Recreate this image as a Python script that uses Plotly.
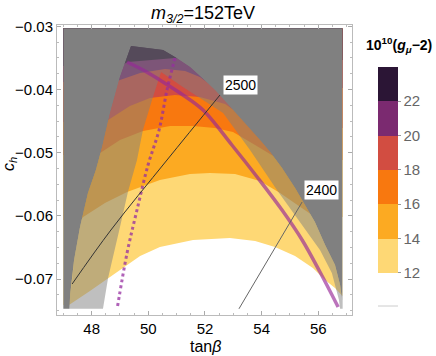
import plotly.graph_objects as go

# ---------------- data (tanβ , c_h) ----------------
X_MIN, X_MAX = 47.0, 56.85
Y_MIN, Y_MAX = -0.0747, -0.0303

# envelope of the computed region (outside: excluded, dark gray)
env_left_x = [47.22, 47.24, 47.31, 47.38, 47.59, 47.87, 48.15, 48.37, 48.65, 49.00, 49.39]
env_left_y = [-0.0747, -0.07252, -0.07014, -0.06698, -0.06176, -0.05638, -0.05274, -0.0491, -0.04372, -0.03802, -0.03312]
env_top_x = [50.06, 50.52, 50.94]
env_top_y = [-0.03343, -0.03375, -0.03486]
env_right_x = [51.47, 51.82, 52.35, 52.99, 53.41, 53.94, 54.30, 54.72, 55.18, 55.53, 55.88, 56.24, 56.59, 56.77, 56.84, 56.84]
env_right_y = [-0.03644, -0.03786, -0.04008, -0.04324, -0.0453, -0.04799, -0.04989, -0.05242, -0.05559, -0.05828, -0.06097, -0.0646, -0.06777, -0.07093, -0.0733, -0.0747]

# allowed (un-shaded) region
bright_left_x = [50.45, 50.13, 49.81, 49.60, 49.28, 49.00, 48.58, 48.40]
bright_left_y = [-0.03723, -0.04166, -0.04641, -0.05116, -0.05622, -0.06176, -0.06983, -0.0747]
bright_right_x = [50.45, 51.22, 52.64, 53.59, 54.54, 55.35, 56.06, 56.48, 56.73, 56.77]
bright_right_y = [-0.03723, -0.0396, -0.04372, -0.04957, -0.0559, -0.06097, -0.0654, -0.06903, -0.0733, -0.0747]

# g-2 contour levels
LEVELS = [12, 14, 16, 18, 20, 22, 24]
BAND_COLORS = ["#fed875", "#fcaa22", "#f8780f", "#d24d41", "#7b2a70", "#2b1535"]

c12_x = [47.20, 47.94, 48.58, 49.25, 49.71, 50.41, 51.58, 52.88, 53.77, 54.47, 55.18, 55.81, 56.24, 56.59, 56.84]
c12_y = [-0.0741, -0.07188, -0.06983, -0.06777, -0.06634, -0.06492, -0.06381, -0.0635, -0.06397, -0.06492, -0.06634, -0.06824, -0.07014, -0.07141, -0.07267]
c14_x = [47.59, 47.70, 48.47, 49.25, 50.41, 51.47, 52.18, 53.06, 53.94, 54.65, 55.28, 55.88]
c14_y = [-0.06065, -0.06017, -0.05796, -0.05622, -0.05432, -0.05337, -0.05321, -0.05337, -0.05448, -0.05638, -0.05828, -0.06017]
c16_x = [48.19, 49.00, 49.81, 50.77, 51.58, 52.35, 52.99, 53.77, 54.65]
c16_y = [-0.05036, -0.04799, -0.04657, -0.04578, -0.04578, -0.04609, -0.04672, -0.04878, -0.05116]
c18_x = [48.47, 49.35, 50.06, 50.94, 51.82, 52.71, 53.41, 53.77]
c18_y = [-0.04514, -0.04261, -0.04134, -0.04087, -0.04119, -0.04229, -0.04451, -0.04609]
c20_x = [48.82, 49.00, 49.71, 50.59, 51.30, 51.82, 52.35]
c20_y = [-0.03881, -0.0385, -0.03739, -0.03676, -0.03707, -0.03802, -0.03976]
c22_x = [49.00, 49.28, 50.06, 50.94, 51.47]
c22_y = [-0.03628, -0.03565, -0.03533, -0.03502, -0.03533]
CONTOURS_X = [c12_x, c14_x, c16_x, c18_x, c20_x, c22_x]
CONTOURS_Y = [c12_y, c14_y, c16_y, c18_y, c20_y, c22_y]

# purple curves
dot_x = [50.94, 50.66, 50.38, 49.99, 49.60, 49.25, 48.90]
dot_y = [-0.03502, -0.04008, -0.04641, -0.05195, -0.05907, -0.06587, -0.0747]
solid_x = [49.25, 49.88, 50.41, 51.12, 51.93, 52.95, 53.87, 54.72, 55.43, 56.06, 56.70]
solid_y = [-0.03565, -0.03707, -0.0385, -0.04055, -0.04324, -0.04878, -0.0540, -0.05907, -0.06381, -0.06888, -0.07441]

# mass contours
m2500_x = [47.31, 48.68, 50.66, 52.53]
m2500_y = [-0.07078, -0.06223, -0.05116, -0.04087]
m2400_x = [53.20, 55.43]
m2400_y = [-0.0747, -0.0578]
MASS_LABELS = ["2500", "2400"]

X_TICKS = [48, 50, 52, 54, 56]
Y_TICKS = [-0.07, -0.06, -0.05, -0.04, -0.03]
Y_TICKTEXT = ["\u22120.07", "\u22120.06", "\u22120.05", "\u22120.04", "\u22120.03"]
CB_TICKS = [12, 14, 16, 18, 20, 22]

# ---------------- figure ----------------
fig = go.Figure()

def poly(xs, ys, color):
    fig.add_trace(go.Scatter(x=xs, y=ys, mode="lines", fill="toself", fillcolor=color,
                             line=dict(width=0), hoverinfo="skip", showlegend=False))

# colour bands: region above each contour level
for cx, cy, col in zip(CONTOURS_X, CONTOURS_Y, BAND_COLORS):
    xs = [X_MIN] + cx + [X_MAX, X_MAX, X_MIN]
    ys = [cy[0]] + cy + [cy[-1], Y_MAX, Y_MAX]
    poly(xs, ys, col)

# translucent shading of envelope minus allowed region
ov_x = env_left_x + env_top_x + env_right_x + bright_right_x[::-1] + bright_left_x[1:]
ov_y = env_left_y + env_top_y + env_right_y + bright_right_y[::-1] + bright_left_y[1:]
poly(ov_x, ov_y, "rgba(128,128,128,0.5)")

# opaque gray outside envelope
out_x = [X_MIN] + env_left_x + env_top_x + env_right_x + [X_MAX, X_MAX, X_MIN]
out_y = [Y_MIN] + env_left_y + env_top_y + env_right_y + [Y_MIN, Y_MAX, Y_MAX]
poly(out_x, out_y, "#808080")

# purple curves
fig.add_trace(go.Scatter(x=dot_x, y=dot_y, mode="lines", line=dict(color="rgba(150,45,160,0.75)", width=3, dash="dot", shape="spline"),
                         hoverinfo="skip", showlegend=False))
fig.add_trace(go.Scatter(x=solid_x, y=solid_y, mode="lines", line=dict(color="rgba(150,40,150,0.65)", width=3.5, shape="spline"),
                         hoverinfo="skip", showlegend=False))
# mass contours
fig.add_trace(go.Scatter(x=m2500_x, y=m2500_y, mode="lines", line=dict(color="#333333", width=1, shape="spline"),
                         hoverinfo="skip", showlegend=False))
fig.add_trace(go.Scatter(x=m2400_x, y=m2400_y, mode="lines", line=dict(color="#666666", width=1),
                         hoverinfo="skip", showlegend=False))

# colorbar
cs = []
n = len(BAND_COLORS)
for i, c in enumerate(BAND_COLORS):
    cs.append([i / n, c])
    cs.append([(i + 1) / n, c])
fig.add_trace(go.Scatter(x=[None], y=[None], mode="markers", showlegend=False, hoverinfo="skip",
                         marker=dict(color=[LEVELS[0]], cmin=LEVELS[0], cmax=LEVELS[-1], colorscale=cs, showscale=True,
                                     colorbar=dict(x=1.0881, xanchor="left", y=0.5003, yanchor="middle",
                                                   len=0.709, lenmode="fraction", thickness=20, xpad=0, ypad=0,
                                                   outlinewidth=0, tickvals=CB_TICKS, ticktext=[str(t) for t in CB_TICKS],
                                                   ticks="outside", ticklen=3, tickcolor="#999999",
                                                   tickfont=dict(size=15, color="#666666")))))

font_fam = "Liberation Sans, Arial, sans-serif"
fig.update_layout(
    width=436, height=356,
    margin=dict(l=57, r=84, t=25, b=41),
    paper_bgcolor="white", plot_bgcolor="white",
    font=dict(family=font_fam, color="black"),
    title=dict(text="<i>m</i><sub><i>3/2</i></sub>=152TeV", xref="container", yref="container",
               x=0.4656, xanchor="center", y=0.9635, yanchor="middle", font=dict(size=18)),
    xaxis=dict(range=[46.777, 57.19], tickvals=X_TICKS, ticktext=[str(t) for t in X_TICKS],
               ticks="inside", ticklen=4, tickcolor="#aaaaaa", showline=True, linecolor="#bbbbbb",
               mirror="allticks", showgrid=False, zeroline=False, tickfont=dict(size=15),
               minor=dict(ticks="inside", ticklen=2, dtick=0.5, tick0=47, tickcolor="#bbbbbb", showgrid=False)),
    yaxis=dict(range=[-0.07568, -0.029794], tickvals=Y_TICKS, ticktext=Y_TICKTEXT,
               ticks="inside", ticklen=4, tickcolor="#aaaaaa", showline=True, linecolor="#bbbbbb",
               mirror="allticks", showgrid=False, zeroline=False, tickfont=dict(size=15),
               minor=dict(ticks="inside", ticklen=2, dtick=0.0025, tick0=-0.075, tickcolor="#bbbbbb", showgrid=False)),
)

annotations = [
    dict(x=53.24, y=-0.03929, xref="x", yref="y", text=MASS_LABELS[0], showarrow=False,
         bgcolor="white", font=dict(size=14, color="black"), borderpad=1),
    dict(x=56.10, y=-0.0559, xref="x", yref="y", text=MASS_LABELS[1], showarrow=False,
         bgcolor="white", font=dict(size=14, color="black"), borderpad=1),
    dict(x=0.5017, y=-0.1103, xref="paper", yref="paper", text="tan<i>β</i>", showarrow=False,
         font=dict(size=16), xanchor="center", yanchor="middle"),
    dict(x=-0.159, y=0.5207, xref="paper", yref="paper", text="<i>c</i><sub><i>h</i></sub>", showarrow=False,
         font=dict(size=16), textangle=-90, xanchor="center", yanchor="middle"),
    dict(x=1.1593, y=0.931, xref="paper", yref="paper",
         text="<b>10<sup>10</sup>(<i>g</i><sub><i>μ</i></sub>\u22122)</b>", showarrow=False,
         font=dict(size=14), xanchor="center", yanchor="middle"),
]
fig.update_layout(annotations=annotations)
fig.add_shape(type="line", xref="paper", yref="paper", x0=1.0881, x1=1.1559, y0=0.031, y1=0.031,
              line=dict(color="#cccccc", width=1))

fig.write_html("out.html", config={"displayModeBar": False, "staticPlot": True},
               post_script="document.body.style.margin='0';document.body.style.overflow='hidden';")
